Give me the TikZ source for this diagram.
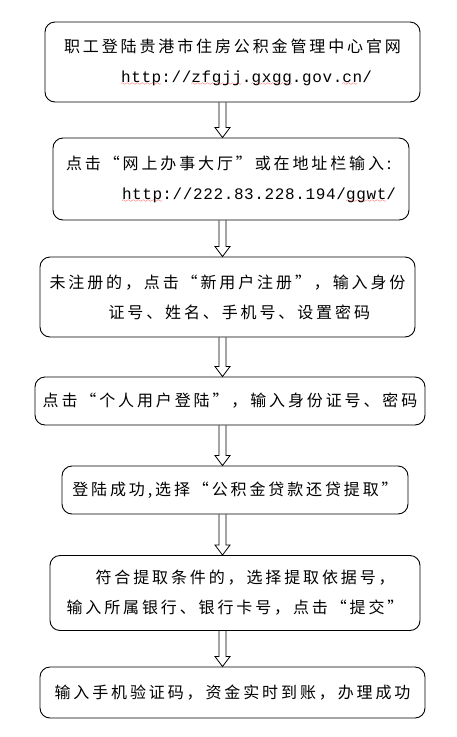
\documentclass[tikz,border=0pt]{standalone}
\usepackage{fontspec}
\usetikzlibrary{calc}
\newfontfamily\cjk{Noto Sans CJK SC}[LetterSpace=18]
\newfontfamily\urlfont{Liberation Mono}[LetterSpace=4]
\font\wavefont=lasy6
\newcommand\spellwave[1]{\setbox0\hbox{#1}\leavevmode
  \rlap{\raisebox{-3.5pt}{\hbox to \wd0{\leaders\hbox{\wavefont\textcolor{red}{\char58}}\hfil}}}\box0}

\begin{document}
\begin{tikzpicture}[
      stepbox/.style={draw,line width=0.9pt,rounded corners=10pt,align=left,inner sep=0pt,
        font=\cjk\fontsize{16}{30}\selectfont},
      flowarrow/.style={draw,line width=0.8pt,line join=miter}]
    \useasboundingbox (0,0) rectangle (457pt,-737pt);
    % steps, top to bottom
    \node[stepbox,minimum width=375pt,minimum height=80pt] (b1) at (232.5pt,-62pt)
      {职工登陆贵港市住房公积金管理中心官网\\
       \hspace*{57pt}{\urlfont\spellwave{http}://\spellwave{zfgjj}.\spellwave{gxgg}.gov.\spellwave{cn}/}};
    \node[stepbox,minimum width=356pt,minimum height=82pt] (b2) at (231pt,-179pt)
      {点击“网上办事大厅”或在地址栏输入:\\
       \hspace*{56pt}{\urlfont\spellwave{http}://222.83.228.194/\spellwave{ggwt}/}};
    \node[stepbox,minimum width=375pt,minimum height=80pt] (b3) at (227.5pt,-297pt)
      {未注册的，点击“新用户注册”，输入身份\\
       \hspace*{59pt}证号、姓名、手机号、设置密码};
    \node[stepbox,minimum width=390pt,minimum height=48pt] (b4) at (230pt,-401pt)
      {点击“个人用户登陆”，输入身份证号、密码};
    \node[stepbox,minimum width=346pt,minimum height=48pt] (b5) at (235pt,-490pt)
      {登陆成功,选择“公积金贷款还贷提取”};
    \node[stepbox,minimum width=370pt,minimum height=75pt] (b6) at (235pt,-593pt)
      {\hspace*{29pt}符合提取条件的，选择提取依据号，\\
       输入所属银行、银行卡号，点击“提交”};
    \node[stepbox,minimum width=385pt,minimum height=51pt] (b7) at (232.5pt,-692.5pt)
      {输入手机验证码，资金实时到账，办理成功};
    % hollow arrows between steps
    \foreach \a/\b in {b1/b2,b2/b3,b3/b4,b4/b5,b5/b6,b6/b7}
      \draw[flowarrow] let \p1=(\a.south), \p2=(\b.north) in
        (219pt,\y1) -- (219pt,{\y2+10pt}) -- (215pt,{\y2+10pt}) -- (222.5pt,\y2)
        -- (230pt,{\y2+10pt}) -- (226pt,{\y2+10pt}) -- (226pt,\y1);
\end{tikzpicture}
\end{document}
